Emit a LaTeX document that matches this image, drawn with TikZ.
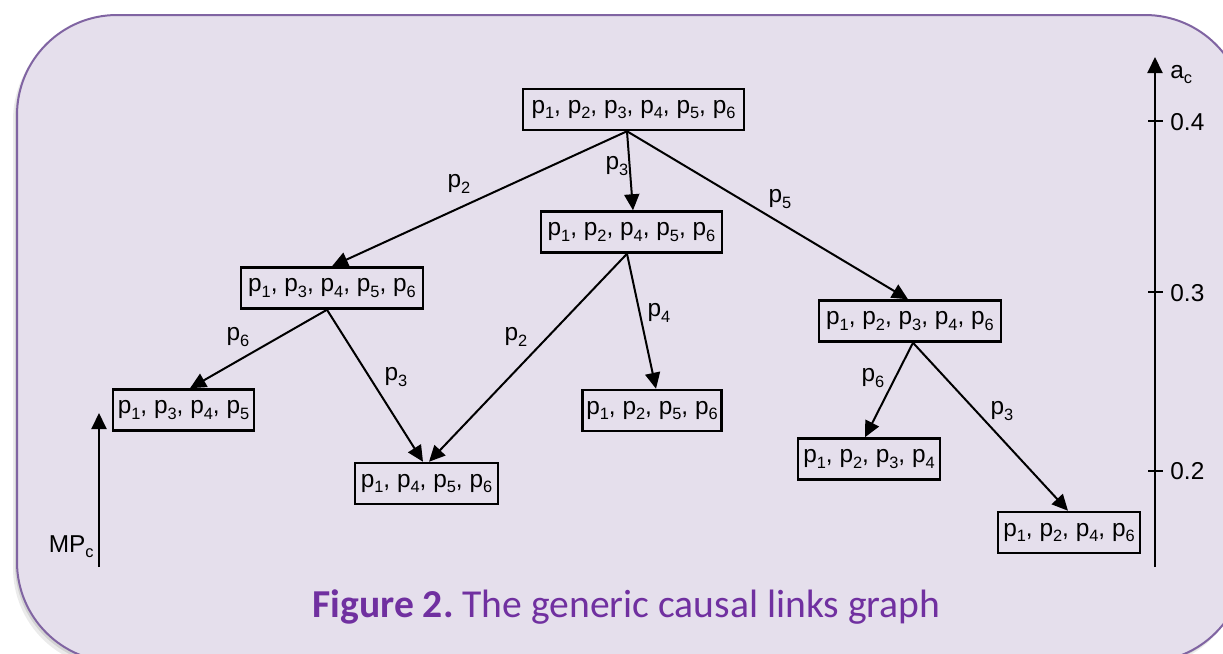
\documentclass[tikz,border=0pt]{standalone}
\usepackage{fontspec}
\setmainfont{Liberation Sans}
\newfontfamily\capfont{Carlito}
\usetikzlibrary{arrows.meta,calc}
\definecolor{bgfill}{HTML}{E5DFEC}
\definecolor{bgline}{HTML}{8064A2}
\definecolor{capcol}{HTML}{7030A0}
\newcommand{\subx}[1]{\raisebox{-2.6pt}{\fontsize{8.2}{9}\selectfont #1}}
\newcommand{\pv}[1]{p\subx{#1}}
\frenchspacing
\begin{document}
\begin{tikzpicture}[x=0.5pt,y=-0.5pt,
  box/.style={draw=black,line width=1.25pt,minimum height=20.5pt,inner sep=0pt,font=\fontsize{12.2}{14}\selectfont},
  lbl/.style={inner sep=0pt,font=\fontsize{12.2}{14}\selectfont},
  conn/.style={line width=1pt,-{Triangle[length=8pt,width=7.5pt]}},
  tick/.style={line width=1pt}
]
\useasboundingbox (0,0) rectangle (1223,654);
\begin{scope}
  \clip (0,0) rectangle (1223,654);
  \fill[black,opacity=0.08,rounded corners=50pt] (13,20) rectangle (1241,668);
  \fill[black,opacity=0.10,rounded corners=50pt] (15,18) rectangle (1243,665);
  \draw[fill=bgfill,draw=bgline,line width=1pt,rounded corners=50pt] (17,15) rectangle (1245,662);
\end{scope}

% nodes
\node[box,minimum width=110.5pt] (n0) at (633.5,109.5) {\pv{1}, \pv{2}, \pv{3}, \pv{4}, \pv{5}, \pv{6}};
\node[box,minimum width=90.5pt] (n1) at (631.5,232) {\pv{1}, \pv{2}, \pv{4}, \pv{5}, \pv{6}};
\node[box,minimum width=91pt] (n2) at (332,288) {\pv{1}, \pv{3}, \pv{4}, \pv{5}, \pv{6}};
\node[box,minimum width=91pt] (n3) at (910,321) {\pv{1}, \pv{2}, \pv{3}, \pv{4}, \pv{6}};
\node[box,minimum width=70.5pt] (n4) at (183.5,410) {\pv{1}, \pv{3}, \pv{4}, \pv{5}};
\node[box,minimum width=71.5pt] (n5) at (426.5,483.5) {\pv{1}, \pv{4}, \pv{5}, \pv{6}};
\node[box,minimum width=69.5pt] (n6) at (652,410.5) {\pv{1}, \pv{2}, \pv{5}, \pv{6}};
\node[box,minimum width=71pt] (n7) at (869,459) {\pv{1}, \pv{2}, \pv{3}, \pv{4}};
\node[box,minimum width=71pt] (n8) at (1069,532.5) {\pv{1}, \pv{2}, \pv{4}, \pv{6}};

% connectors
\draw[conn] ($(n0.south)+(-6.5,0)$) -- ($(n2.north)+(0,0)$);
\draw[conn] ($(n0.south)+(-6.5,0)$) -- ($(n1.north)+(1.5,0)$);
\draw[conn] ($(n0.south)+(-6.5,0)$) -- ($(n3.north)+(-2,0)$);
\draw[conn] ($(n2.south)+(-5,0)$) -- ($(n4.north)+(6.5,0)$);
\draw[conn] ($(n2.south)+(-5,0)$) -- ($(n5.north)+(-3.5,0)$);
\draw[conn] ($(n1.south)+(-4.5,0)$) -- ($(n5.north)+(2.5,0)$);
\draw[conn] ($(n1.south)+(-4.5,0)$) -- ($(n6.north)+(4,0)$);
\draw[conn] ($(n3.south)+(3,0)$) -- ($(n7.north)+(-4,0)$);
\draw[conn] ($(n3.south)+(3,0)$) -- ($(n8.north)+(-1,0)$);

% connector labels
\node[lbl] (l02) at (459,184) {\pv{2}};
\node[lbl] (l01) at (617,166) {\pv{3}};
\node[lbl] (l03) at (780,199) {\pv{5}};
\node[lbl] (l24) at (238,337) {\pv{6}};
\node[lbl] (l25) at (396,377) {\pv{3}};
\node[lbl] (l15) at (516,337) {\pv{2}};
\node[lbl] (l16) at (659,313) {\pv{4}};
\node[lbl] (l37) at (873,378) {\pv{6}};
\node[lbl] (l38) at (1002,411) {\pv{3}};

% right axis
\coordinate (axb) at (1155,567);
\coordinate (axt) at (1155,57);
\draw[conn] (axb) -- (axt);
\coordinate (t4) at (1155,121);
\coordinate (t3) at (1155,292);
\coordinate (t2) at (1155,471);
\draw[tick] ($(t4)+(-7,0)$) -- ($(t4)+(8,0)$);
\draw[tick] ($(t3)+(-7,0)$) -- ($(t3)+(8,0)$);
\draw[tick] ($(t2)+(-7,0)$) -- ($(t2)+(8,0)$);
\node[lbl,anchor=west] (v4) at ($(t4)+(15,1)$) {0.4};
\node[lbl,anchor=west] (v3) at ($(t3)+(15,1)$) {0.3};
\node[lbl,anchor=west] (v2) at ($(t2)+(15,0)$) {0.2};
\node[lbl,anchor=base west] (ac) at (1170,78) {a\subx{c}};

% left axis
\coordinate (mpb) at (99,567);
\coordinate (mpt) at (99,413);
\draw[conn] (mpb) -- (mpt);
\node[lbl,anchor=base east] (mp) at (94,552) {MP\subx{c}};

% caption
\node[anchor=base,inner sep=0pt,text=capcol,font=\capfont\fontsize{19.8}{24}\selectfont] (cap) at (626.5,617) {\textbf{Figure 2.} The generic causal links graph};
\end{tikzpicture}
\end{document}
